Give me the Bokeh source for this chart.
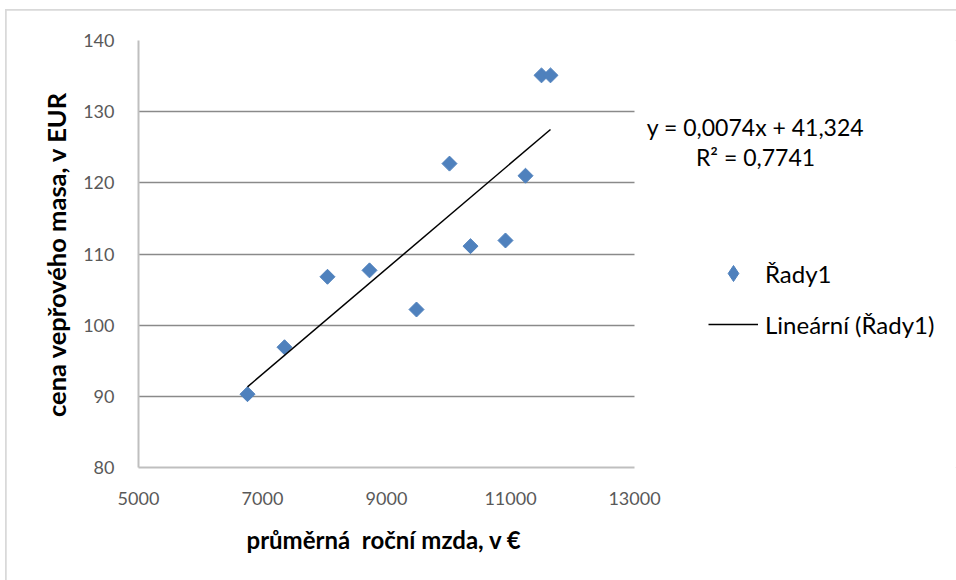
from bokeh.plotting import figure
from bokeh.models import Range1d, FixedTicker, Label, Legend, LegendItem, Title
from bokeh.embed import file_html
from bokeh.resources import INLINE
import math

# average annual wage (EUR) and price of pork (EUR)
wage = [6758, 7355, 8048, 8726, 9484, 10016, 10355, 10919, 11242, 11500, 11645]
price = [90.3, 96.9, 106.8, 107.7, 102.2, 122.7, 111.1, 111.9, 121.0, 135.1, 135.1]

# linear trend as reported in the chart
slope = 0.0074
intercept = 41.324
r_squared = 0.7741

x_ticks = [5000, 7000, 9000, 11000, 13000]
y_ticks = [80, 90, 100, 110, 120, 130, 140]

FONT = "Lato"
BLUE = "#4F81BD"

# The plotting frame runs on to the right edge so that the equation and the
# legend, placed beside the axes, are not clipped; the visible axis line and
# gridlines are limited to 5000-13000 with bounds.
PX_PER_X = 496 / 8000
FRAME_W = 950 - 132

p = figure(width=950, height=570, output_backend="svg", toolbar_location=None,
           x_range=Range1d(x_ticks[0], x_ticks[0] + FRAME_W / PX_PER_X),
           y_range=Range1d(y_ticks[0], y_ticks[-1]),
           min_border_left=132, min_border_right=0,
           min_border_top=30, min_border_bottom=113)
p.margin = (10, 0, 0, 6)
p.styles = {"outline": "2px solid #d9d9d9", "outline-offset": "-1px"}
p.background_fill_color = "white"
p.border_fill_color = "white"
p.outline_line_color = None

# axes
for ax in (p.xaxis[0], p.yaxis[0]):
    ax.axis_line_color = "#bfbfbf"
    ax.axis_line_width = 2
    ax.major_tick_line_color = None
    ax.minor_tick_line_color = None
    ax.major_label_text_font = FONT
    ax.major_label_text_font_size = "18px"
    ax.major_label_text_color = "#595959"

p.xaxis.ticker = FixedTicker(ticks=x_ticks)
p.yaxis.ticker = FixedTicker(ticks=y_ticks)
p.xaxis.bounds = (x_ticks[0], x_ticks[-1])
p.xaxis.major_label_standoff = 18
p.yaxis.major_label_standoff = 18

p.yaxis.axis_label = "cena vepřového masa, v EUR"
p.yaxis.axis_label_text_font = FONT
p.yaxis.axis_label_text_font_style = "bold"
p.yaxis.axis_label_text_font_size = "25.5px"
p.yaxis.axis_label_text_color = "black"
p.yaxis.axis_label_standoff = 9

# x-axis title, aligned under the 5000-13000 span of the axis
p.add_layout(Title(text="průměrná\u00a0 roční mzda, v €", align="left", offset=108,
                   standoff=31, text_font=FONT, text_font_style="bold",
                   text_font_size="24px", text_color="black"), "below")

p.xgrid.visible = False
p.ygrid.ticker = FixedTicker(ticks=y_ticks[1:])
p.ygrid.cross_bounds = (x_ticks[0], x_ticks[-1])
p.ygrid.grid_line_color = "#8a8a8a"
p.ygrid.grid_line_width = 1.5

# data points (square diamonds)
pts = p.scatter(wage, price, marker="square", size=10.6, angle=math.pi / 4,
                fill_color=BLUE, line_color=BLUE)

# legend swatch for the points: a diamond marker with a single undrawn point
swatch = p.scatter([float("nan")], [float("nan")], marker="diamond",
                   fill_color=BLUE, line_color=BLUE)

# trend line over the data range
x0, x1 = min(wage), max(wage)
trend = p.line([x0, x1], [slope * x0 + intercept, slope * x1 + intercept],
               line_color="black", line_width=1.5)

legend = Legend(items=[LegendItem(label="Řady1", renderers=[swatch]),
                       LegendItem(label="Lineární (Řady1)", renderers=[trend])],
                location=(570, 123), orientation="vertical",
                glyph_width=50, glyph_height=40, label_height=40,
                label_standoff=7, spacing=11, padding=0, margin=0,
                border_line_color=None, background_fill_alpha=0,
                label_text_font=FONT, label_text_font_size="24px",
                label_text_color="black")
p.add_layout(legend)

# regression equation
eq = "y = " + f"{slope}".replace(".", ",") + "x + " + f"{intercept}".replace(".", ",")
r2 = "R² = " + f"{r_squared}".replace(".", ",")
p.add_layout(Label(x=617, y=341, x_units="screen", y_units="screen", text=eq,
                   text_align="center", text_baseline="middle",
                   text_font=FONT, text_font_size="23px", text_color="black"))
p.add_layout(Label(x=617, y=311, x_units="screen", y_units="screen", text=r2,
                   text_align="center", text_baseline="middle",
                   text_font=FONT, text_font_size="23px", text_color="black"))

open("out.html", "w").write(file_html(p, INLINE))
